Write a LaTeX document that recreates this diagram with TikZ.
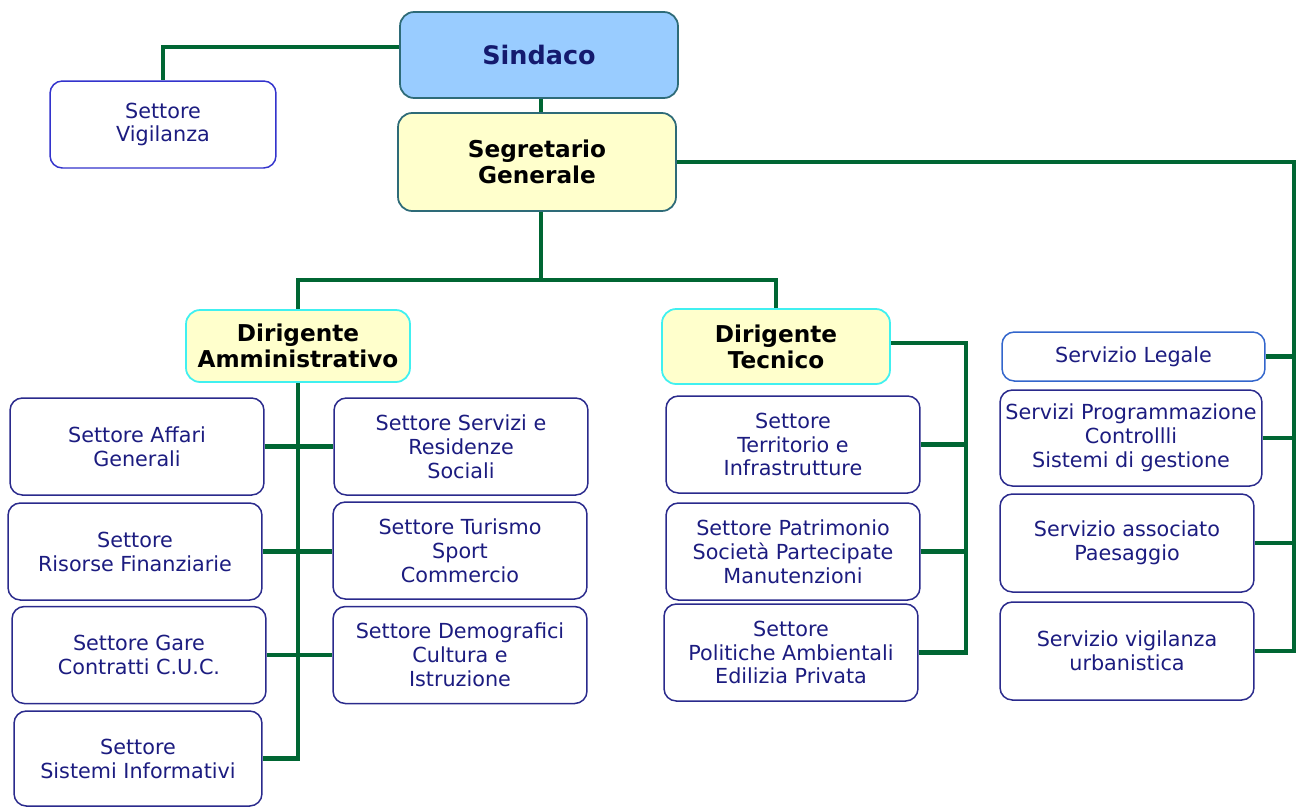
\documentclass[tikz,border=0pt]{standalone}
\usepackage{fontspec}
\setmainfont{DejaVu Sans}
\usetikzlibrary{calc}
\definecolor{LineGreen}{HTML}{006633}
\definecolor{SkyFill}{HTML}{99CCFF}
\definecolor{PaleYellow}{HTML}{FFFFCC}
\definecolor{TealEdge}{HTML}{2E6B78}
\definecolor{CyanEdge}{HTML}{40F0F0}
\definecolor{NavyEdge}{HTML}{2A2A8C}
\definecolor{NavyText}{HTML}{1C1C80}
\definecolor{DeepNavy}{HTML}{141A6E}
\definecolor{BlueEdge}{HTML}{3333CC}
\definecolor{LegalEdge}{HTML}{3366CC}

\begin{document}
\begin{tikzpicture}[x=0.02cm, y=-0.02cm,
  settore/.style={draw=NavyEdge, line width=0.85pt, rounded corners=7pt, fill=white, text=NavyText, align=center, minimum width=5.08cm, minimum height=1.94cm, inner sep=1pt, font=\fontsize{11.8}{13.6}\selectfont},
  capo/.style={draw=TealEdge, line width=1pt, rounded corners=8pt, align=center, inner sep=1pt, font=\bfseries\fontsize{13.2}{14.7}\selectfont},
  dirig/.style={draw=CyanEdge, line width=1pt, rounded corners=8pt, fill=PaleYellow, align=center, inner sep=1pt, font=\bfseries\fontsize{13.2}{14.7}\selectfont},
  link/.style={draw=LineGreen, line width=2.8pt}
]
\useasboundingbox (0,0) rectangle (1298,806);

% vertice
\node[capo, fill=SkyFill, text=DeepNavy, minimum width=5.56cm, minimum height=1.72cm, font=\bfseries\fontsize{14.5}{16}\selectfont] (sind) at (539,55) {Sindaco};
\node[capo, fill=PaleYellow, minimum width=5.56cm, minimum height=1.96cm] (seg) at (537,162) {Segretario\\Generale};
\node[settore, draw=BlueEdge, minimum width=4.52cm, minimum height=1.74cm] (vig) at (163,124.5) {Settore\\Vigilanza};

% dirigenti
\node[dirig, minimum width=4.48cm, minimum height=1.44cm] (da) at (298,346) {Dirigente\\Amministrativo};
\node[dirig, minimum width=4.56cm, minimum height=1.5cm] (dt) at (776,346.5) {Dirigente\\Tecnico};

% settori amministrativi
\node[settore] (aff) at (137,446.5) {Settore Affari\\Generali};
\node[settore] (ris) at (135,551.5) {Settore\\Risorse Finanziarie};
\node[settore] (gar) at (139,655) {Settore Gare\\Contratti C.U.C.};
\node[settore, minimum width=4.96cm, minimum height=1.9cm] (sis) at (138,758.5) {Settore\\Sistemi Informativi};
\node[settore] (soc) at (461,446.5) {Settore Servizi e\\Residenze\\Sociali};
\node[settore] (tur) at (460,550.5) {Settore Turismo\\Sport\\Commercio};
\node[settore] (dem) at (460,655) {Settore Demografici\\Cultura e\\Istruzione};

% settori tecnici
\node[settore] (ter) at (793,444.5) {Settore\\Territorio e\\Infrastrutture};
\node[settore] (pat) at (793,551.5) {Settore Patrimonio\\Società Partecipate\\Manutenzioni};
\node[settore] (pol) at (791,652.5) {Settore\\Politiche Ambientali\\Edilizia Privata};

% servizi
\node[settore, draw=LegalEdge, minimum width=5.26cm, minimum height=0.98cm] (leg) at (1133.5,356.5) {Servizio Legale};
\node[settore, minimum width=5.24cm, minimum height=1.92cm] (prg) at (1131,438) {Servizi Programmazione\\Controllli\\Sistemi di gestione};
\node[settore, minimum height=1.96cm] (pae) at (1127,543) {Servizio associato\\Paesaggio};
\node[settore, minimum height=1.96cm] (vur) at (1127,651) {Servizio vigilanza\\urbanistica};

% collegamenti
\coordinate (bus) at (541,280);
\coordinate (dtx) at (966,0);
\coordinate (srx) at (1294,0);

\draw[link] ([yshift=0.16cm]sind.west) -| (vig.north);
\draw[link] (sind.south -| bus) -- (seg.north -| bus);
\draw[link] (seg.south -| bus) -- (bus);
\draw[link] (bus) -| (da.north);
\draw[link] (bus) -| (dt.north);
\draw[link] (da.south) |- (sis.east);
\draw[link] (aff.east) -- (soc.west);
\draw[link] (ris.east) -- (ris.east -| tur.west);
\draw[link] (gar.east) -- (dem.west);
\draw[link] ([yshift=0.07cm]dt.east) -| (dtx |- pol.east) -- (pol.east);
\draw[link] (ter.east) -- (ter.east -| dtx);
\draw[link] (pat.east) -- (pat.east -| dtx);
\draw[link] (seg.east) -| (srx |- vur.east) -- (vur.east);
\draw[link] (leg.east) -- (leg.east -| srx);
\draw[link] (prg.east) -- (prg.east -| srx);
\draw[link] (pae.east) -- (pae.east -| srx);
\end{tikzpicture}
\end{document}
